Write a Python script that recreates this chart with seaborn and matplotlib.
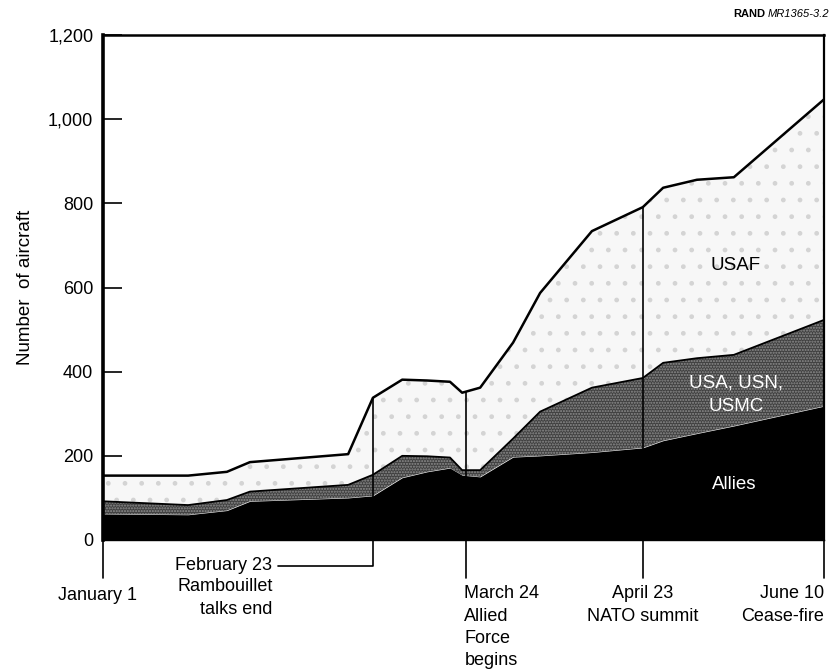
"""Aircraft deployed to Operation Allied Force, January 1 to June 10."""
import numpy as np
import matplotlib
matplotlib.use('Agg')
import matplotlib.pyplot as plt
from matplotlib.ticker import FuncFormatter
import seaborn as sns

# timeline position (chart's own x scale: 0 = January 1, 160 = June 10)
pos = [0, 18.9, 27.5, 32.6, 54.4, 59.9, 66.4, 71.9, 77.0, 79.7, 83.7,
       91.0, 97.0, 108.5, 119.8, 124.3, 131.8, 140.0, 160.0]
allies = [62, 60, 70, 92, 100, 105, 148, 162, 171, 154, 150,
          197, 200, 208, 219, 236, 253, 271, 318]
usa_usn_usmc = [30, 23, 25, 23, 31, 50, 52, 37, 25, 12, 16,
                44, 105, 154, 166, 185, 179, 169, 205]
usaf = [61, 70, 67, 70, 73, 183, 181, 180, 180, 184, 196,
        228, 282, 372, 406, 416, 424, 422, 524]

event_pos = [0, 59.9, 80.6, 119.8, 160]
event_labels = ['January 1', 'February 23', 'March 24\nAllied\nForce\nbegins',
                'April 23\nNATO summit', 'June 10\nCease-fire']

sns.set_theme(style='white')
plt.rcParams['font.family'] = ['Liberation Sans', 'DejaVu Sans']
plt.rcParams['text.color'] = 'black'
plt.rcParams['axes.labelcolor'] = 'black'

x = np.array(pos, dtype=float)
lay1 = np.array(allies, dtype=float)
lay2 = lay1 + np.array(usa_usn_usmc)
lay3 = lay2 + np.array(usaf)

fig = plt.figure(figsize=(8.34, 6.70), dpi=100)
ax = fig.add_axes([103 / 834, 130 / 670, 721 / 834, 505 / 670])

ax.fill_between(x, 0, lay1, facecolor='black', linewidth=0)
ax.fill_between(x, lay1, lay2, facecolor='#404040', edgecolor='#8e8e8e',
                hatch='......', linewidth=0)
ax.fill_between(x, lay2, lay3, facecolor='#f7f7f7', edgecolor='#d4d4d4',
                hatch='.', linewidth=0)
sns.lineplot(x=x, y=lay2, color='black', linewidth=1.3, ax=ax)
sns.lineplot(x=x, y=lay3, color='black', linewidth=1.8, ax=ax)

# event markers inside the plot
for p in event_pos[1:4]:
    top = np.interp(p, x, lay3)
    ax.plot([p, p], [0, top], color='black', linewidth=1.2)

ax.set_xlim(0, 160)
ax.set_ylim(0, 1200)
ax.set_xticks([])
ax.set_yticks(range(0, 1201, 200))
ax.yaxis.set_major_formatter(FuncFormatter(lambda v, p: f'{int(v):,}'))
ax.tick_params(axis='y', direction='in', length=14, width=1.2, left=True,
               labelsize=13, pad=7, colors='black')
ax.set_ylabel('Number  of aircraft', fontsize=13.5, labelpad=10)
ax.set_xlabel('')

for side, lw in [('left', 2.6), ('top', 1.8), ('right', 1.6), ('bottom', 1.0)]:
    ax.spines[side].set_visible(True)
    ax.spines[side].set_color('black')
    ax.spines[side].set_linewidth(lw)

# layer labels
ax.text(140.3, 653, 'USAF', ha='center', va='center', fontsize=13.5)
ax.text(140.5, 345, 'USA, USN,\nUSMC', ha='center', va='center', fontsize=13.5,
        color='white', linespacing=1.45)
ax.text(140.0, 131, 'Allies', ha='center', va='center', fontsize=13.5,
        color='white')

# date markers below the axis
tr = ax.get_xaxis_transform()
for p in [event_pos[0], event_pos[2], event_pos[3], event_pos[4]]:
    ax.plot([p, p], [0, -0.075], transform=tr, color='black', linewidth=1.2,
            clip_on=False)
ax.plot([event_pos[1], event_pos[1], 38.8], [0, -0.052, -0.052], transform=tr,
        color='black', linewidth=1.2, clip_on=False)

fs = 13
ax.text(37.6, -0.05, 'February 23', transform=tr, ha='right', va='center',
        fontsize=fs)
ax.text(37.6, -0.076, 'Rambouillet\ntalks end', transform=tr, ha='right',
        va='top', fontsize=fs, multialignment='right', linespacing=1.45)
ax.text(-1.3, -0.093, event_labels[0], transform=tr, ha='center', va='top',
        fontsize=fs)
ax.text(80.2, -0.09, event_labels[2], transform=tr, ha='left', va='top',
        fontsize=fs, linespacing=1.4)
ax.text(119.8, -0.09, event_labels[3], transform=tr, ha='center', va='top',
        fontsize=fs, multialignment='center', linespacing=1.45)
ax.text(160, -0.09, event_labels[4], transform=tr, ha='right', va='top',
        fontsize=fs, multialignment='right', linespacing=1.45)

fig.text(765 / 834, 1 - 14 / 670, 'RAND', ha='right', va='center',
         fontsize=8, fontweight='bold')
fig.text(768 / 834, 1 - 14 / 670, 'MR1365-3.2', ha='left', va='center',
         fontsize=8, fontstyle='italic')

fig.savefig('out.png', dpi=100)
